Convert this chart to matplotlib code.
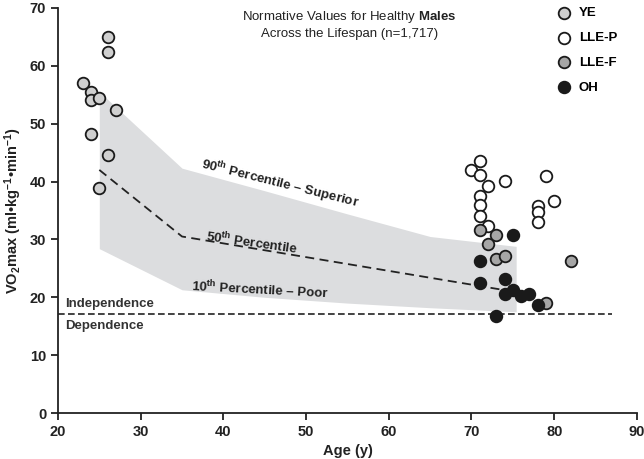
import numpy as np
import matplotlib
matplotlib.use("Agg")
import matplotlib.pyplot as plt

plt.rcParams['font.family'] = ['Liberation Sans', 'DejaVu Sans']
plt.rcParams['mathtext.fontset'] = 'custom'
plt.rcParams['mathtext.rm'] = 'Liberation Sans:bold'
plt.rcParams['mathtext.bf'] = 'Liberation Sans:bold'
plt.rcParams['mathtext.it'] = 'Liberation Sans:bold'

# 数据
ye_age = [23, 24, 24, 25, 24, 25, 26, 26, 26, 27]
ye_vo2 = [57.0, 55.4, 54.0, 54.4, 48.2, 38.8, 65.0, 62.3, 44.5, 52.4]

llep_age = [71, 70, 71, 72, 74, 71, 71, 71, 72, 79, 80, 78, 78, 78]
llep_vo2 = [43.5, 42.0, 41.2, 39.3, 40.1, 37.5, 35.9, 34.0, 32.4, 41.0, 36.7, 35.7, 34.7, 33.0]

llef_age = [71, 73, 72, 73, 74, 82, 79]
llef_vo2 = [31.7, 30.7, 29.2, 26.6, 27.2, 26.2, 19.0]

oh_age = [75, 71, 71, 74, 74, 75, 76, 77, 78, 73]
oh_vo2 = [30.8, 26.3, 22.5, 23.1, 20.6, 21.3, 20.3, 20.6, 18.6, 16.8]

# 百分位带
band_age = [25, 35, 45, 55, 65, 75.4]
p90 = [55.5, 42.3, 38.4, 34.4, 30.5, 28.8]
p10 = [28.4, 21.3, 20.0, 19.0, 18.2, 17.5]
p50_age = [25, 35, 75]
p50 = [42.0, 30.5, 21.0]

indep_level = 17.2

fig, ax = plt.subplots(figsize=(6.44, 4.59), dpi=100)
fig.subplots_adjust(left=0.09, right=0.989, bottom=0.1, top=0.983)

ax.fill_between(band_age, p10, p90, color='#dcdddf', lw=0, zorder=1)
ax.plot(p50_age, p50, ls=(0, (5, 3)), color='#222222', lw=1.3, zorder=2)
ax.plot([20, 87], [indep_level, indep_level], ls=(0, (4, 2)), color='#222222', lw=1.2, zorder=2)

kw = dict(s=70, edgecolors='#1a1a1a', linewidths=1.3, zorder=3)
ax.scatter(ye_age, ye_vo2, c='#d0d0d0', label='YE', **kw)
ax.scatter(llep_age, llep_vo2, c='white', label='LLE-P', **kw)
ax.scatter(llef_age, llef_vo2, c='#a6a6a6', label='LLE-F', **kw)
ax.scatter(oh_age, oh_vo2, c='#1a1a1a', label='OH', **kw)

ax.text(20.9, 18.4, 'Independence', fontsize=9.5, fontweight='bold', color='#333333')
ax.text(20.9, 14.6, 'Dependence', fontsize=9.5, fontweight='bold', color='#333333')

ax.text(46.8, 39.6, r'90$^\mathregular{th}$ Percentile – Superior', fontsize=9.5, fontweight='bold',
        rotation=-14, ha='center', va='center', color='#222222')
ax.text(43.5, 29.5, r'50$^\mathregular{th}$ Percentile', fontsize=9.5, fontweight='bold',
        rotation=-8, ha='center', va='center', color='#222222')
ax.text(44.4, 21.3, r'10$^\mathregular{th}$ Percentile – Poor', fontsize=9.5, fontweight='bold',
        rotation=-3, ha='center', va='center', color='#222222')

ax.text(55.2, 68.4, r'Normative Values for Healthy $\mathbf{Males}$', fontsize=9.5,
        ha='center', va='center', color='#222222')
ax.text(55.2, 65.5, 'Across the Lifespan (n=1,717)', fontsize=9.5,
        ha='center', va='center', color='#222222')

leg = ax.legend(loc='upper right', bbox_to_anchor=(0.975, 1.015), frameon=False,
                handletextpad=0.1, labelspacing=0.95, borderaxespad=0,
                prop={'weight': 'bold', 'size': 9.5})

ax.set_xlim(20, 90)
ax.set_ylim(0, 70)
ax.set_xticks(range(20, 91, 10))
ax.set_yticks(range(0, 71, 10))
for s in ['top', 'right']:
    ax.spines[s].set_visible(False)
for s in ['left', 'bottom']:
    ax.spines[s].set_linewidth(1.3)
    ax.spines[s].set_color('#222222')
ax.tick_params(width=1.3, length=5, labelsize=10.5, colors='#222222')
for lab in ax.get_xticklabels() + ax.get_yticklabels():
    lab.set_fontweight('bold')

ax.set_xlabel('Age (y)', fontsize=10.5, fontweight='bold', color='#222222')
ax.set_ylabel(r'VO$_\mathregular{2}$max (ml•kg$^\mathregular{-1}$•min$^\mathregular{-1}$)',
              fontsize=10.5, fontweight='bold', color='#222222')

plt.savefig('out.png')
